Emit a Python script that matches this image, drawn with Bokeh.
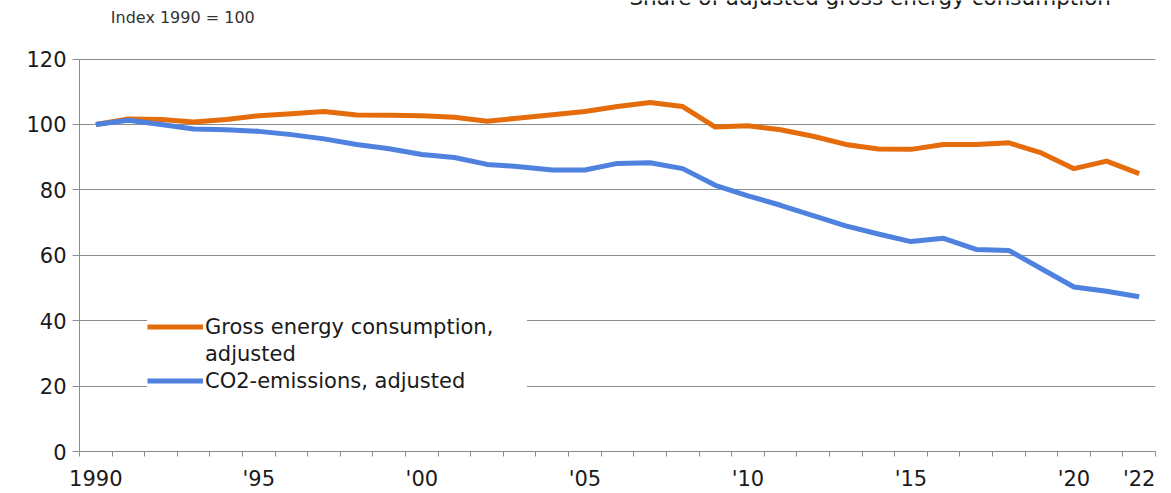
from bokeh.plotting import figure
from bokeh.models import FixedTicker, Legend, LegendItem, Label, ColumnDataSource
from bokeh.embed import file_html
from bokeh.resources import INLINE

years = list(range(1990, 2023))
gross_energy = [100.0, 101.7, 101.5, 100.8, 101.5, 102.7, 103.3, 104.0, 102.9, 102.8,
                102.7, 102.2, 101.0, 102.0, 103.0, 104.0, 105.5, 106.7, 105.5, 99.2,
                99.6, 98.4, 96.4, 93.9, 92.5, 92.4, 93.9, 93.9, 94.4, 91.3,
                86.5, 88.8, 85.0]
co2_emissions = [100.0, 101.3, 100.0, 98.6, 98.4, 97.9, 96.9, 95.6, 93.9, 92.6,
                 90.8, 89.9, 87.8, 87.1, 86.1, 86.1, 88.1, 88.3, 86.5, 81.4,
                 78.2, 75.3, 72.1, 69.0, 66.5, 64.2, 65.2, 61.8, 61.5, 55.9,
                 50.3, 49.0, 47.3]
label_years = [1990, 1995, 2000, 2005, 2010, 2015, 2020, 2022]
label_texts = ["1990", "'95", "'00", "'05", "'10", "'15", "'20", "'22"]
y_ticks = [0, 20, 40, 60, 80, 100, 120]
series_names = ["Gross energy consumption,", "adjusted", "CO2-emissions, adjusted"]
subtitle = "Index 1990 = 100"
top_title = "Share of adjusted gross energy consumption"

FONT = "DejaVu Sans"
ORANGE = "#E46C0A"
BLUE = "#4F81DF"
GRID = "#8C8C8C"
TXT = "#1a1a1a"

y_top = 137.92  # headroom above the 120 gridline for the header texts

src = ColumnDataSource(dict(year=years, gross=gross_energy, co2=co2_emissions))

p = figure(width=1171, height=493, output_backend="svg", toolbar_location=None,
           x_range=(years[0] - 0.5, years[-1] + 0.5), y_range=(0, y_top),
           min_border_left=79, min_border_right=16, min_border_top=0, min_border_bottom=39)
p.outline_line_color = None
p.background_fill_color = "white"
p.border_fill_color = "white"

# x axis: labels on selected years, tick marks between categories
xa = p.xaxis[0]
xa.ticker = FixedTicker(ticks=label_years,
                        minor_ticks=[y - 0.5 for y in years] + [years[-1] + 0.5])
xa.major_label_overrides = {y: t for y, t in zip(label_years, label_texts)}
xa.major_tick_out = 0
xa.major_tick_in = 0
xa.minor_tick_out = 5
xa.minor_tick_in = 0
xa.minor_tick_line_color = GRID
xa.axis_line_color = GRID
xa.major_label_text_font = FONT
xa.major_label_text_font_size = "21px"
xa.major_label_text_color = TXT
xa.major_label_standoff = 10

ya = p.yaxis[0]
ya.ticker = FixedTicker(ticks=y_ticks, minor_ticks=[])
ya.bounds = (y_ticks[0], y_ticks[-1])
ya.major_tick_out = 7
ya.major_tick_in = 0
ya.major_tick_line_color = GRID
ya.axis_line_color = GRID
ya.major_label_text_font = FONT
ya.major_label_text_font_size = "21px"
ya.major_label_text_color = TXT
ya.major_label_standoff = 6

p.xgrid.grid_line_color = None
p.ygrid.grid_line_color = GRID
p.ygrid.grid_line_width = 1

r1 = p.line("year", "gross", source=src, line_color=ORANGE, line_width=5, line_join="round")
r2 = p.line("year", "co2", source=src, line_color=BLUE, line_width=5, line_join="round")
r_blank = p.line(x=[], y=[], line_alpha=0)

legend = Legend(items=[LegendItem(label=series_names[0], renderers=[r1]),
                       LegendItem(label=series_names[1], renderers=[r_blank]),
                       LegendItem(label=series_names[2], renderers=[r2])],
                location=(68, 57))
legend.border_line_color = None
legend.background_fill_color = "white"
legend.background_fill_alpha = 1.0
legend.label_text_font = FONT
legend.label_text_font_size = "21px"
legend.label_text_color = TXT
legend.glyph_width = 56
legend.glyph_height = 27
legend.label_height = 27
legend.label_standoff = 2
legend.spacing = 0
legend.padding = 12
legend.margin = 0
legend.label_width = 322
p.add_layout(legend, "center")

p.add_layout(Label(x=years[0] + 0.46, y=132.76, text=subtitle, text_font=FONT,
                   text_font_size="16px", text_color="#333333", text_baseline="middle"))
p.add_layout(Label(x=2013.75, y=138.8, text=top_title, text_font=FONT,
                   text_font_size="21.5px", text_color=TXT, text_align="center",
                   text_baseline="alphabetic"))

open("out.html", "w").write(file_html(p, INLINE))
